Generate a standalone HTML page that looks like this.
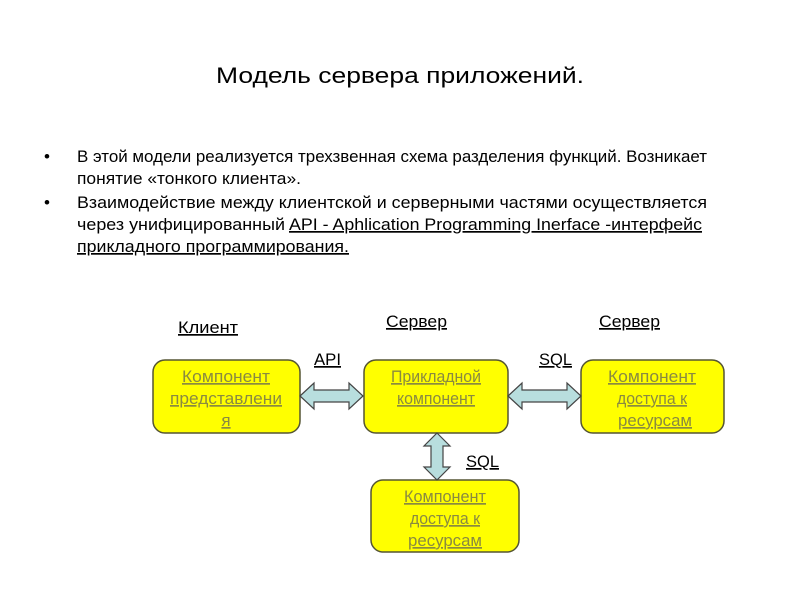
<!DOCTYPE html>
<html><head><meta charset="utf-8"><style>
body{margin:0;background:#fff;}
svg{display:block;font-family:"Liberation Sans",sans-serif;}
</style></head><body>
<svg width="800" height="600" viewBox="0 0 800 600">
<text x="400" y="83" font-size="22" text-anchor="middle" fill="#000" textLength="368" lengthAdjust="spacingAndGlyphs">Модель сервера приложений.</text>
<g font-size="17" fill="#000">
<text x="44" y="162">•</text>
<text x="77" y="162" textLength="630" lengthAdjust="spacingAndGlyphs">В этой модели реализуется трехзвенная схема разделения функций. Возникает</text>
<text x="77" y="184" textLength="224" lengthAdjust="spacingAndGlyphs">понятие «тонкого клиента».</text>
<text x="44" y="208">•</text>
<text x="77" y="208" textLength="630" lengthAdjust="spacingAndGlyphs">Взаимодействие между клиентской и серверными частями осуществляется</text>
<text x="77" y="230" textLength="208" lengthAdjust="spacingAndGlyphs">через унифицированный</text>
<text x="289" y="230" textLength="413" lengthAdjust="spacingAndGlyphs" text-decoration="underline">API - Aphlication Programming Inerface -интерфейс</text>
<text x="77" y="252" textLength="272" lengthAdjust="spacingAndGlyphs" text-decoration="underline">прикладного программирования.</text>
</g>
<g font-size="17" fill="#000" text-decoration="underline">
<text x="178" y="333" textLength="60" lengthAdjust="spacingAndGlyphs">Клиент</text>
<text x="386" y="327" textLength="61" lengthAdjust="spacingAndGlyphs">Сервер</text>
<text x="599" y="327" textLength="61" lengthAdjust="spacingAndGlyphs">Сервер</text>
<text x="314" y="365" textLength="27" lengthAdjust="spacingAndGlyphs">API</text>
<text x="539" y="365" textLength="33" lengthAdjust="spacingAndGlyphs">SQL</text>
<text x="466" y="467" textLength="33" lengthAdjust="spacingAndGlyphs">SQL</text>
</g>
<g fill="#ffff00" stroke="#555533" stroke-width="1.5">
<rect x="153" y="360" width="147" height="73" rx="12"/>
<rect x="364" y="360" width="144" height="73" rx="12"/>
<rect x="581" y="360" width="143" height="73" rx="12"/>
<rect x="371" y="480" width="148" height="72" rx="12"/>
</g>
<g fill="#b8dede" stroke="#444" stroke-width="1.2">
<polygon points="300,396 314,383 314,390 349,390 349,383 363,396 349,409 349,402 314,402 314,409"/>
<polygon points="508,396 522,383 522,390 567,390 567,383 581,396 567,409 567,402 522,402 522,409"/>
<polygon points="437,433 450,446 443,446 443,467 450,467 437,480 424,467 431,467 431,446 424,446"/>
</g>
<g font-size="17" fill="#8a8a40" text-anchor="middle" text-decoration="underline">
<text x="226" y="382" textLength="88" lengthAdjust="spacingAndGlyphs">Компонент</text>
<text x="226" y="404" textLength="112" lengthAdjust="spacingAndGlyphs">представлени</text>
<text x="226" y="426">я</text>
<text x="436" y="382" textLength="90" lengthAdjust="spacingAndGlyphs">Прикладной</text>
<text x="436" y="404" textLength="78" lengthAdjust="spacingAndGlyphs">компонент</text>
<text x="652" y="382" textLength="88" lengthAdjust="spacingAndGlyphs">Компонент</text>
<text x="652" y="404" textLength="70" lengthAdjust="spacingAndGlyphs">доступа к</text>
<text x="655" y="426" textLength="74" lengthAdjust="spacingAndGlyphs">ресурсам</text>
<text x="445" y="502" textLength="82" lengthAdjust="spacingAndGlyphs">Компонент</text>
<text x="445" y="524" textLength="70" lengthAdjust="spacingAndGlyphs">доступа к</text>
<text x="445" y="546" textLength="74" lengthAdjust="spacingAndGlyphs">ресурсам</text>
</g>
</svg>
</body></html>
